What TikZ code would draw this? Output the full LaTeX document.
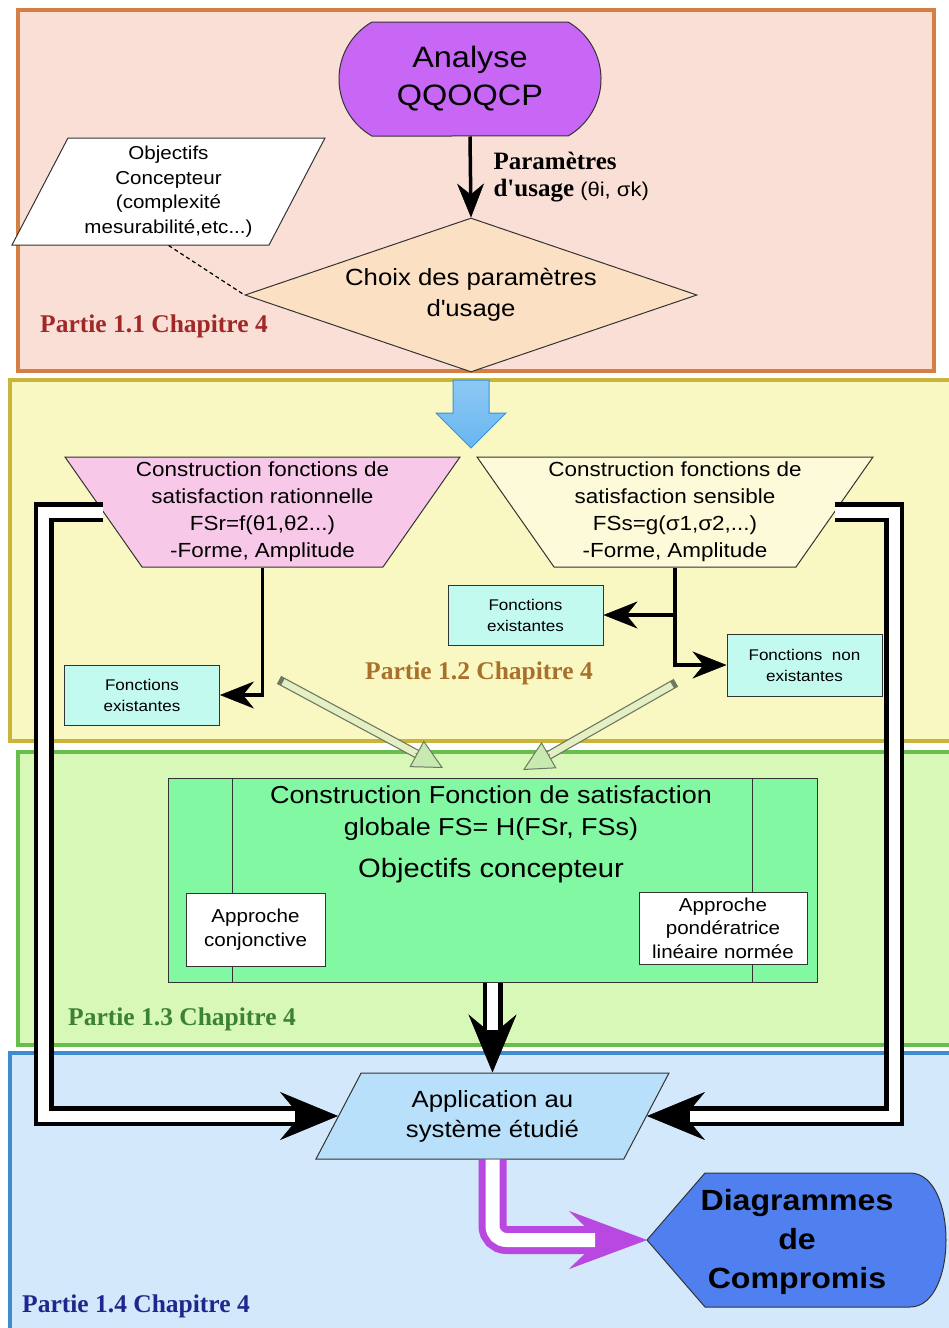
\documentclass[tikz,border=0pt]{standalone}
\usepackage{fontspec}
\setmainfont{Liberation Sans}[FakeStretch=1.1]
\newfontfamily\partfont{Liberation Serif}
\usepackage{tikz}
\usetikzlibrary{arrows.meta,positioning,shapes.geometric,shapes.misc,calc}

\definecolor{secApink}{HTML}{FADFD7}
\definecolor{secAline}{HTML}{D67F45}
\definecolor{secByellow}{HTML}{FAF8C2}
\definecolor{secBline}{HTML}{C9B53A}
\definecolor{secCgreen}{HTML}{D8F8B8}
\definecolor{secCline}{HTML}{66BE4C}
\definecolor{secDblue}{HTML}{D4E8FC}
\definecolor{secDline}{HTML}{3E8CD0}
\definecolor{qqoqcpfill}{HTML}{C866F5}
\definecolor{choixfill}{HTML}{FCE0C4}
\definecolor{flowblue}{HTML}{68B6F0}
\definecolor{flowblueline}{HTML}{3A92DA}
\definecolor{fsrfill}{HTML}{F8C8E8}
\definecolor{fssfill}{HTML}{FCFAD8}
\definecolor{existfill}{HTML}{C2FAF0}
\definecolor{fsfill}{HTML}{82F8A2}
\definecolor{appfill}{HTML}{B8E0FA}
\definecolor{diagfill}{HTML}{5080F0}
\definecolor{pplcol}{HTML}{B848E0}
\definecolor{hollowline}{HTML}{6E7862}
\definecolor{hollowfill}{HTML}{E4F0C4}
\definecolor{hollowhead}{HTML}{C8EAB0}
\definecolor{partA}{HTML}{A02828}
\definecolor{partB}{HTML}{A8702A}
\definecolor{partC}{HTML}{3C8232}
\definecolor{partD}{HTML}{1E288C}

\begin{document}
\begin{tikzpicture}[
  x=1pt, y=-1pt,
  every node/.style={font=\fontsize{20.4}{27}\selectfont},
  section/.style={line width=4pt},
  outline/.style={draw=black!80, line width=1pt},
  flowbox/.style={outline, align=center, inner sep=3pt},
  slanted/.style={flowbox, trapezium, trapezium stretches body},
  existbox/.style={flowbox, fill=existfill, minimum width=155pt, minimum height=60pt,
    font=\fontsize{15.5}{21}\selectfont},
  approachbox/.style={flowbox, fill=white, font=\fontsize{18.7}{24.5}\selectfont},
  partlabel/.style={anchor=west, inner sep=0pt, font=\partfont\bfseries\fontsize{25.5}{28}\selectfont},
  thinarrow/.style={line width=3.5pt, -{Stealth[length=34pt,width=27pt,inset=11pt,line width=0.5pt]}},
  dblout/.style={line width=20pt, -{Stealth[length=58pt,width=48pt,inset=20pt,line width=0.5pt]}},
  dblin/.style={line width=11pt, white, shorten >=43pt},
  pplout/.style={line width=28pt, pplcol, rounded corners=14pt,
    -{Stealth[length=78pt,width=58pt,inset=30pt,line width=0.5pt]}},
  pplin/.style={line width=14pt, white, rounded corners=14pt, shorten >=52pt},
  hollowout/.style={line width=9pt, hollowline, line cap=rect, shorten >=26pt},
  hollowin/.style={line width=6.5pt, hollowfill, shorten >=26pt},
  hollowtip/.style={line width=1pt, hollowline, -{Triangle[length=30pt,width=30pt,fill=hollowhead]}}
]
\useasboundingbox (0,0) rectangle (949,1328);

% the four parts
\draw[section, draw=secAline, fill=secApink] (18,10) rectangle (934,371);
\draw[section, draw=secBline, fill=secByellow] (10,380) rectangle (965,741);
\draw[section, draw=secCline, fill=secCgreen] (18,752) rectangle (965,1045);
\draw[section, draw=secDline, fill=secDblue] (10,1053) rectangle (965,1345);

\node[partlabel, text=partA] (p11) at (40,326) {Partie 1.1 Chapitre 4};
\node[partlabel, text=partB] (p12) at (365,673) {Partie 1.2 Chapitre 4};
\node[partlabel, text=partC] (p13) at (68,1019) {Partie 1.3 Chapitre 4};
\node[partlabel, text=partD] (p14) at (22,1306) {Partie 1.4 Chapitre 4};

% part 1.1
\node[flowbox, rounded rectangle, rounded rectangle arc length=120, minimum width=268pt,
  minimum height=114pt, fill=qqoqcpfill, font=\fontsize{29.5}{38}\selectfont] (qqoqcp) at (470,79) {Analyse\\QQOQCP};
\node[flowbox, diamond, aspect=2.9, inner sep=0pt, minimum width=452pt, minimum height=154pt,
  fill=choixfill, font=\fontsize{23.4}{31}\selectfont] (choix) at (471,295)
  {Choix des paramètres\\d\textquotesingle usage};
\node[slanted, trapezium left angle=60, trapezium right angle=120, minimum width=313pt,
  minimum height=107pt, fill=white, font=\fontsize{18.7}{24.5}\selectfont] (obj) at (168.5,191.5)
  {Objectifs\\Concepteur\\(complexité\\mesurabilité,etc...)};

% part 1.2
\draw[flowblueline, line width=1pt, top color=flowblue!75!white, bottom color=flowblue]
  (453,380) -- (489,380) -- (489,413) -- (506,413) -- (471,448) -- (436,413) -- (453,413) -- cycle;
\node[slanted, trapezium left angle=126, trapezium right angle=126, inner xsep=-10pt,
  minimum width=395pt, minimum height=110pt, fill=fsrfill] (fsr) at (262.5,512)
  {Construction fonctions de\\satisfaction rationnelle\\FSr=f(θ1,θ2...)\\-Forme, Amplitude};
\node[slanted, trapezium left angle=126, trapezium right angle=126, inner xsep=-10pt,
  minimum width=396pt, minimum height=110pt, fill=fssfill] (fss) at (675,512)
  {Construction fonctions de\\satisfaction sensible\\FSs=g(σ1,σ2,...)\\-Forme, Amplitude};
\node[existbox] (fe1) at (142,695) {Fonctions\\existantes};
\node[existbox] (fe2) at (525.5,615) {Fonctions\\existantes};
\node[existbox, minimum height=62pt] (fne) at (804.5,665) {Fonctions\ \ non\\existantes};

% part 1.3
\node[outline, fill=fsfill, minimum width=649pt, minimum height=204pt] (gfs) at (492.5,880) {};
\draw[outline] ([xshift=65pt]gfs.north west) -- ([xshift=65pt]gfs.south west);
\draw[outline] ([xshift=-65pt]gfs.north east) -- ([xshift=-65pt]gfs.south east);
\node[font=\fontsize{24.5}{32}\selectfont, align=center] (gfstitle) at (491,813)
  {Construction Fonction de satisfaction\\globale FS= H(FSr, FSs)};
\node[font=\fontsize{26.5}{30}\selectfont] (gfsobj) at (491,871) {Objectifs concepteur};
\node[approachbox, minimum width=139pt, minimum height=73pt] (conj) at (255.5,929.5) {Approche\\conjonctive};
\node[approachbox, minimum width=168pt, minimum height=72pt, font=\fontsize{18.7}{23.5}\selectfont] (pond) at (723,928)
  {Approche\\pondératrice\\linéaire normée};

% part 1.4
\node[slanted, trapezium left angle=52, trapezium right angle=128, minimum width=353pt,
  minimum height=86pt, fill=appfill, font=\fontsize{23.4}{30}\selectfont] (app) at (492.5,1116)
  {Application au\\système étudié};
\coordinate (diagtip) at (647,1240);
\draw[outline, fill=diagfill] (diagtip) -- (705,1173) -- (910,1173)
  .. controls (958,1173) and (958,1307) .. (910,1307) -- (705,1307) -- cycle;
\node[font=\bfseries\fontsize{29.2}{39}\selectfont, align=center] (diag) at (797,1242)
  {Diagrammes\\de\\Compromis};

% connectors
\draw[thinarrow] (qqoqcp.south) -- node[right=18pt, align=left, font=\fontsize{20}{27}\selectfont] (usage)
  {{\partfont\bfseries\fontsize{25}{27}\selectfont Paramètres}\\{\partfont\bfseries\fontsize{25}{27}\selectfont d\textquotesingle usage} (θi, σk)} (choix.north);
\draw[dash pattern=on 4pt off 3pt, line width=1.2pt] ($(obj.bottom left corner)!0.61!(obj.bottom right corner)$) -- (choix.west);

\draw[thinarrow] (fsr.south) |- (fe1.east);
\draw[thinarrow] (fss.south) |- (fe2.east);
\draw[thinarrow] (fss.south) |- (fne.west);

\coordinate (rtail) at (283,682);
\coordinate (rhead) at (443,768);
\coordinate (stail) at (672,685);
\coordinate (shead) at (523,770);
\draw[hollowout] (rtail) -- (rhead);
\draw[hollowin] (rtail) -- (rhead);
\draw[hollowtip] ($(rhead)!31pt!(rtail)$) -- (rhead);
\draw[hollowout] (stail) -- (shead);
\draw[hollowin] (stail) -- (shead);
\draw[hollowtip] ($(shead)!31pt!(stail)$) -- (shead);

\draw[dblout] (fsr.left side) -- ++(-59,0) |- (app.left side);
\draw[dblin] (fsr.left side) -- ++(-59,0) |- (app.left side);
\draw[dblout] (fss.right side) -- ++(59,0) |- (app.right side);
\draw[dblin] (fss.right side) -- ++(59,0) |- (app.right side);
\draw[dblout] (gfs.south) -- (gfs.south |- app.top side);
\draw[dblin] (gfs.south) -- (gfs.south |- app.top side);

\draw[pplout] (gfs.south |- app.bottom side) |- (diagtip);
\draw[pplin] (gfs.south |- app.bottom side) |- (diagtip);
\end{tikzpicture}
\end{document}
